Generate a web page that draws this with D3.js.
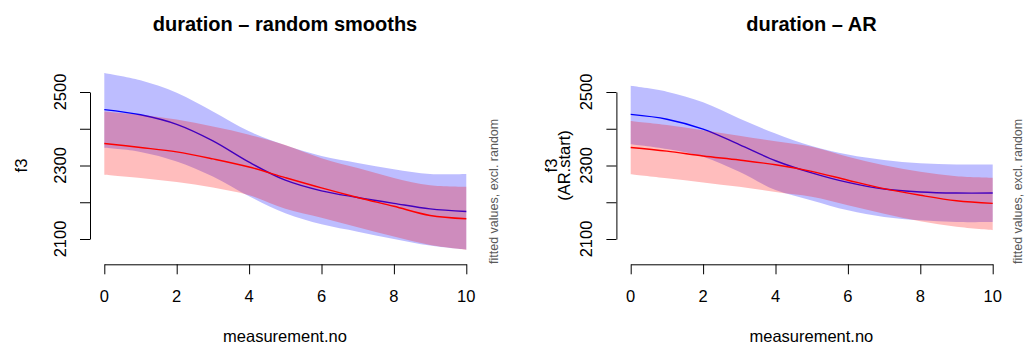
<!DOCTYPE html>
<html>
<head>
<meta charset="utf-8">
<script src="https://cdn.jsdelivr.net/npm/d3@7"></script>
<style>
  body { margin: 0; background: #fff; }
  svg text { font-family: "Liberation Sans", Arial, Helvetica, sans-serif; }
</style>
</head>
<body>
<svg id="chart"></svg>
<script>
var W = 1025, H = 345;

// measurement.no, evaluated at each integer
var xs = [0, 1, 2, 3, 4, 5, 6, 7, 8, 9, 10];
var xTicks = [0, 2, 4, 6, 8, 10];
var yTicks = [2100, 2200, 2300, 2400, 2500];
var yLabels = [2100, 2300, 2500]; // R drops the in-between ones

// left panel: duration - random smooths
var rsBlueFit = [2452, 2438, 2412, 2367, 2309, 2260, 2231, 2213, 2197, 2182, 2175];
var rsBlueHi  = [2552, 2532, 2498, 2447, 2393, 2355, 2326, 2307, 2290, 2277, 2277];
var rsBlueLo  = [2348, 2337, 2311, 2270, 2216, 2170, 2140, 2120, 2100, 2082, 2071];
var rsRedFit  = [2360, 2349, 2337, 2318, 2296, 2267, 2239, 2213, 2189, 2164, 2155];
var rsRedHi   = [2447, 2438, 2425, 2406, 2384, 2356, 2320, 2293, 2266, 2246, 2242];
var rsRedLo   = [2275, 2266, 2255, 2240, 2219, 2182, 2158, 2132, 2107, 2084, 2071];

// right panel: duration - AR
var arBlueFit = [2439, 2426, 2399, 2357, 2313, 2280, 2254, 2236, 2228, 2225, 2225];
var arBlueHi  = [2517, 2501, 2472, 2428, 2387, 2353, 2330, 2315, 2306, 2303, 2303];
var arBlueLo  = [2358, 2345, 2324, 2283, 2233, 2205, 2178, 2160, 2151, 2146, 2146];
var arRedFit  = [2349, 2339, 2326, 2315, 2302, 2284, 2260, 2237, 2219, 2204, 2197];
var arRedHi   = [2421, 2410, 2396, 2381, 2366, 2351, 2324, 2301, 2283, 2271, 2267];
var arRedLo   = [2276, 2265, 2254, 2242, 2228, 2215, 2192, 2169, 2148, 2133, 2124];

var svg = d3.select("#chart").attr("width", W).attr("height", H);

function gpos(x, y) {
  return "translate(" + x + "," + y + ")";
}

function drawPanel(dx, title, ylab, series) {
  var x = d3.scaleLinear().domain([0, 10]).range([104.3 + dx, 466.3 + dx]);
  var y = d3.scaleLinear().domain([2100, 2500]).range([239, 92]);
  var axisX = 90 + dx, axisY = 264.3;
  var g = svg.append("g");

  var band = d3.area()
    .x(function(d, i) { return x(xs[i]); })
    .y0(function(d) { return y(d[0]); })
    .y1(function(d) { return y(d[1]); })
    .curve(d3.curveCatmullRom.alpha(0.5));
  var line = d3.line()
    .x(function(d, i) { return x(xs[i]); })
    .y(function(d) { return y(d); })
    .curve(d3.curveCatmullRom.alpha(0.5));

  // blue first, then red on top (as in the original)
  series.forEach(function(s) {
    var pairs = s.lo.map(function(v, i) { return [v, s.hi[i]]; });
    g.append("path").attr("d", band(pairs))
      .attr("fill", s.fill).attr("stroke", "none");
    g.append("path").attr("d", line(s.fit))
      .attr("fill", "none").attr("stroke", s.col).attr("stroke-width", 1.4);
  });

  // x axis
  var gx = g.append("g").attr("transform", gpos(0, axisY))
    .call(d3.axisBottom(x).tickValues(xTicks).tickSize(10).tickSizeOuter(0).tickFormat(""));
  gx.selectAll("path, line").attr("stroke", "#000").attr("stroke-width", 1);
  g.selectAll(null).data(xTicks).enter().append("text")
    .attr("x", function(d) { return x(d); })
    .attr("y", 301.7)
    .attr("text-anchor", "middle")
    .style("font-size", "16.5px")
    .text(function(d) { return d; });

  // y axis
  var gy = g.append("g").attr("transform", gpos(axisX, 0))
    .call(d3.axisLeft(y).tickValues(yTicks).tickSize(10).tickSizeOuter(0).tickFormat(""));
  gy.selectAll("path, line").attr("stroke", "#000").attr("stroke-width", 1);
  g.selectAll(null).data(yLabels).enter().append("text")
    .attr("transform", function(d) { return gpos(axisX - 24, y(d)) + " rotate(-90)"; })
    .attr("text-anchor", "middle")
    .style("font-size", "16.5px")
    .text(function(d) { return d; });

  // title
  g.append("text").attr("x", 285 + dx).attr("y", 31)
    .attr("text-anchor", "middle")
    .style("font-size", "20px").style("font-weight", "bold")
    .text(title);

  // axis labels
  g.append("text").attr("x", 285 + dx).attr("y", 342)
    .attr("text-anchor", "middle")
    .style("font-size", "16.5px")
    .text("measurement.no");
  ylab.forEach(function(t, i) {
    var lx = ylab.length == 1 ? 27 + dx : 31 + dx + i * 13;
    g.append("text")
      .attr("transform", gpos(lx, 165.5) + " rotate(-90)")
      .attr("text-anchor", "middle")
      .style("font-size", "16.5px")
      .text(t);
  });

  // note on the right edge
  g.append("text")
    .attr("transform", gpos(Math.min(497.5 + dx, W - 3.5), 264) + " rotate(-90)")
    .attr("text-anchor", "start")
    .attr("fill", "#595959")
    .style("font-size", "12.5px")
    .text("fitted values, excl. random");
}

var blueFill = "rgba(0,0,255,0.26)", redFill = "rgba(255,0,0,0.26)";

drawPanel(0, "duration \u2013 random smooths", ["f3"], [
  { fit: rsBlueFit, lo: rsBlueLo, hi: rsBlueHi, col: "blue", fill: blueFill },
  { fit: rsRedFit, lo: rsRedLo, hi: rsRedHi, col: "red", fill: redFill }
]);

drawPanel(526.4, "duration \u2013 AR", ["f3", "(AR.start)"], [
  { fit: arBlueFit, lo: arBlueLo, hi: arBlueHi, col: "blue", fill: blueFill },
  { fit: arRedFit, lo: arRedLo, hi: arRedHi, col: "red", fill: redFill }
]);
</script>
</body>
</html>
